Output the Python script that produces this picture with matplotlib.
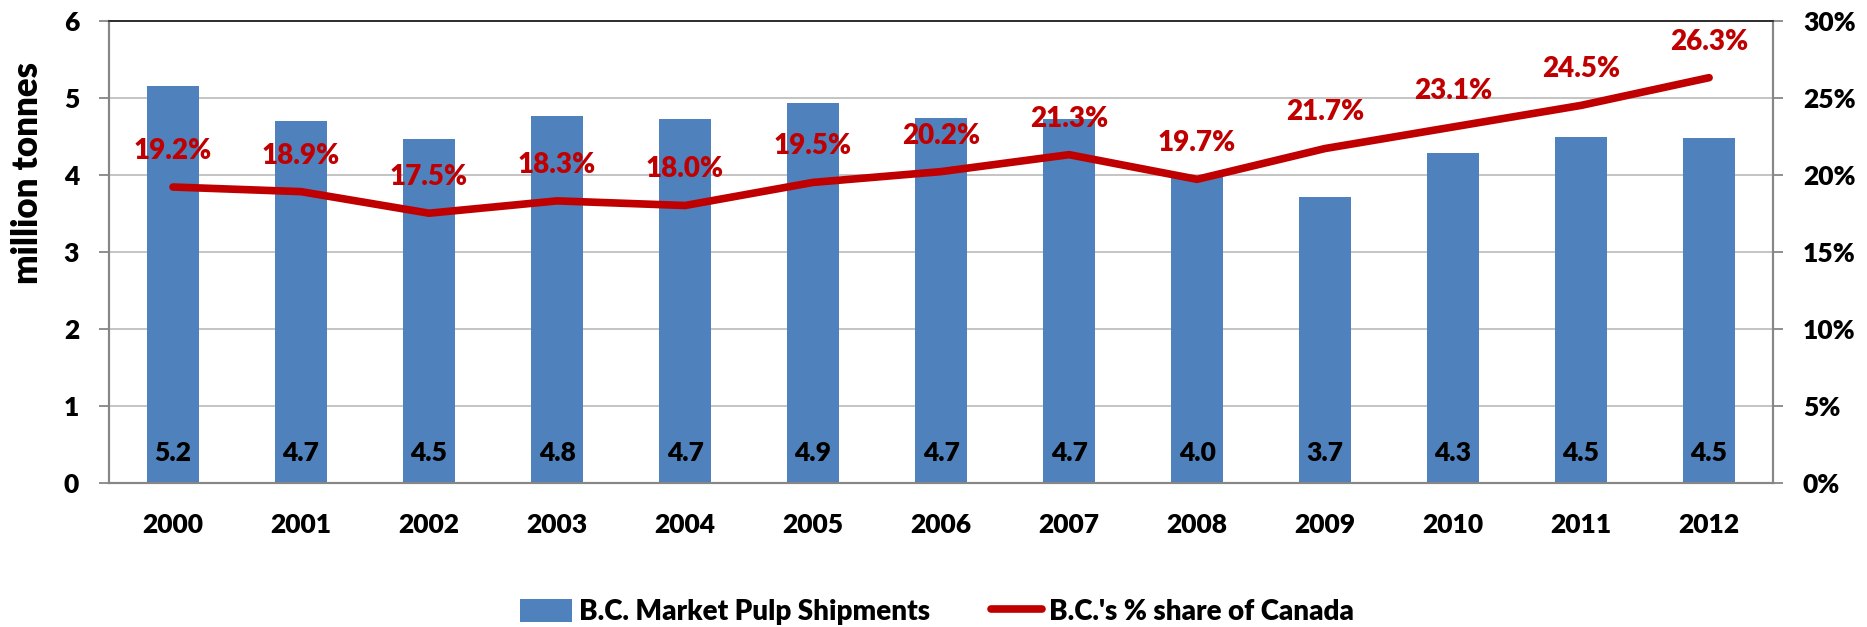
import matplotlib.pyplot as plt
from matplotlib.ticker import FuncFormatter

years = ['2000', '2001', '2002', '2003', '2004', '2005', '2006',
         '2007', '2008', '2009', '2010', '2011', '2012']
shipments = [5.15, 4.70, 4.47, 4.76, 4.72, 4.93, 4.73, 4.72, 3.98, 3.71, 4.28, 4.49, 4.48]
bar_labels = ['5.2', '4.7', '4.5', '4.8', '4.7', '4.9', '4.7', '4.7', '4.0', '3.7', '4.3', '4.5', '4.5']
share = [19.2, 18.9, 17.5, 18.3, 18.0, 19.5, 20.2, 21.3, 19.7, 21.7, 23.1, 24.5, 26.3]

BLUE = '#4F81BD'
RED = '#C00000'
GRID = '#BFBFBF'
SPINE = '#868686'
W = 800

plt.rcParams['font.family'] = ['Lato', 'DejaVu Sans']
plt.rcParams['font.weight'] = W

fig = plt.figure(figsize=(18.67, 6.27), dpi=100)
ax = fig.add_axes([0.0584, 0.2301, 0.8913, 0.7369])
ax2 = ax.twinx()

x = list(range(len(years)))
bars = ax.bar(x, shipments, width=0.4, color=BLUE, zorder=2, label='B.C. Market Pulp Shipments')
for xi, lab in zip(x, bar_labels):
    ax.text(xi, 0.38, lab, ha='center', va='center', fontsize=19, fontweight=W, color='black', zorder=3)

line, = ax2.plot(x, share, color=RED, lw=5.5, solid_capstyle='round', solid_joinstyle='round',
                 label="B.C.'s % share of Canada", zorder=4)
for xi, v in zip(x, share):
    ax2.annotate(f'{v:.1f}%', (xi, v), xytext=(0, 26), textcoords='offset points',
                 ha='center', va='center', fontsize=20, fontweight=W, color=RED)

ax.set_xlim(-0.5, len(years) - 0.5)
ax.set_ylim(0, 6)
ax2.set_ylim(0, 30)
ax.set_yticks(range(0, 7))
ax2.set_yticks(range(0, 31, 5))
ax2.yaxis.set_major_formatter(FuncFormatter(lambda v, p: f'{v:.0f}%'))
ax.set_xticks(x)
ax.set_xticklabels(years)

ax.yaxis.grid(True, color=GRID, lw=1.3, zorder=0)
ax.set_axisbelow(True)
ax2.set_zorder(ax.get_zorder() + 1)
ax2.patch.set_visible(False)

for a in (ax, ax2):
    for s in ('left', 'right', 'bottom'):
        a.spines[s].set_color(SPINE)
        a.spines[s].set_linewidth(1.5)
    a.spines['top'].set_color('#303030')
    a.spines['top'].set_linewidth(1.3)
    a.tick_params(axis='y', length=7.5, width=1.3, color=SPINE, labelsize=19, pad=14)
ax.tick_params(axis='x', length=0, labelsize=19, pad=22)

# axis title sits above the middle, as in the original
fig.text(28 / 1867, 1 - 173 / 627, 'million tonnes', rotation=90, ha='center', va='center',
         fontsize=25, fontweight=W)

fig.legend(handles=[bars, line], loc='center', bbox_to_anchor=(0.502, 0.024), ncol=2,
           frameon=False, handlelength=1.85, handleheight=0.9, handletextpad=0.25, columnspacing=2.2,
           prop={'weight': W, 'size': 20})

fig.savefig('out.png', dpi=100)
